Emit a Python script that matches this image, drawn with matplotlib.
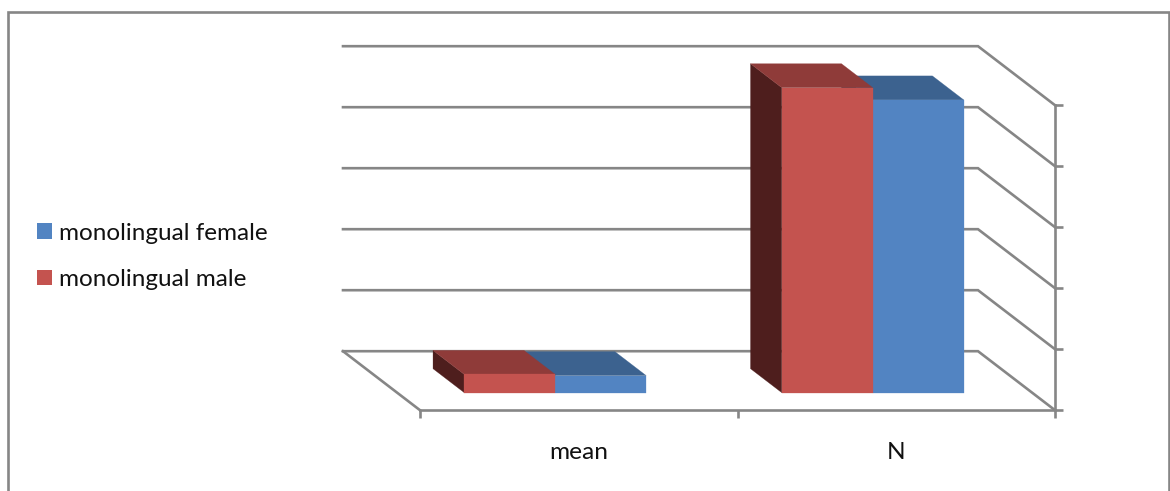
import matplotlib
matplotlib.use("Agg")
import matplotlib.pyplot as plt
from matplotlib.lines import Line2D
from matplotlib.patches import Patch, Polygon

categories = ["mean", "N"]
female_values = [14, 240]
male_values = [15, 250]
gridline_values = [0, 50, 100, 150, 200, 250]

W, H = 1170, 491
GREY = "#868686"
LW = 1.9

# Bar faces: front, top, side
FEMALE = ("#5284C2", "#3C628F", "#2B4668")
MALE = ("#C4534F", "#8F3B39", "#4E1E1D")

plt.rcParams["font.family"] = ["Lato", "DejaVu Sans"]

fig = plt.figure(figsize=(W / 100, H / 100), dpi=100, facecolor="white")

# Front plane of the box: categories along x, values along y
left, right = 420, 1055
floor, top = 410.2, 105.2
ax = fig.add_axes([left / W, 1 - floor / H, (right - left) / W, (floor - top) / H])
ax.set_xlim(0, 2)
ax.set_ylim(0, 250)
ax.patch.set_visible(False)

# Oblique depth: one full unit of depth shifts a point this far in data units
DEPTH_X = 77 / 317.5
DEPTH_Y = 59 / 1.22


def project(c, v, d):
    return (c - d * DEPTH_X, v + d * DEPTH_Y)


# Back wall and right wall gridlines, plus the left floor edge
for v in gridline_values:
    xs, ys = zip(project(0, v, 1), project(2, v, 1), project(2, v, 0))
    ax.plot(xs, ys, color=GREY, lw=LW, clip_on=False, solid_joinstyle="miter", zorder=1)
xs, ys = zip(project(0, 0, 1), project(0, 0, 0))
ax.plot(xs, ys, color=GREY, lw=LW, clip_on=False, zorder=1)

# Bars sit in the middle of the floor depth
D0, D1 = 0.297, 0.703
BAR_W = 0.2865
GAP = 0.2115


def draw_bar(c0, value, colours):
    c1 = c0 + BAR_W
    front = [project(c0, 0, D0), project(c1, 0, D0), project(c1, value, D0), project(c0, value, D0)]
    roof = [project(c0, value, D0), project(c1, value, D0), project(c1, value, D1), project(c0, value, D1)]
    side = [project(c0, 0, D0), project(c0, value, D0), project(c0, value, D1), project(c0, 0, D1)]
    for pts, col in ((side, colours[2]), (roof, colours[1]), (front, colours[0])):
        ax.add_patch(Polygon(pts, closed=True, facecolor=col, edgecolor=col, lw=0.2,
                             clip_on=False, zorder=3))


for i in range(len(categories)):
    draw_bar(i + GAP + BAR_W, female_values[i], FEMALE)
    draw_bar(i + GAP, male_values[i], MALE)

# Axes: bottom edge, right edge and their ticks
for name, spine in ax.spines.items():
    spine.set_visible(name in ("bottom", "right"))
    spine.set_color(GREY)
    spine.set_linewidth(LW)
    spine.set_zorder(2)

ax.yaxis.tick_right()
ax.set_yticks(gridline_values)
ax.set_yticklabels([])
ax.tick_params(axis="y", which="major", length=5.8, width=LW, color=GREY)
ax.set_xticks([0, 1, 2])
ax.set_xticklabels([])
ax.tick_params(axis="x", which="major", length=5.8, width=LW, color=GREY)
ax.set_xticks([i + 0.5 for i in range(len(categories))], minor=True)
ax.set_xticklabels(categories, minor=True, fontsize=17.6, color="#111111")
ax.tick_params(axis="x", which="minor", length=0, pad=23)

# Chart area outline, open at the lower edge
bx0, bx1, by0 = 7.8 / W, 1168.7 / W, 1 - 12 / H
fig.add_artist(Line2D([bx0, bx0, bx1, bx1], [0, by0, by0, 0], transform=fig.transFigure,
                      color=GREY, lw=LW, solid_joinstyle="miter"))

handles = [Patch(facecolor=FEMALE[0], edgecolor="none"), Patch(facecolor=MALE[0], edgecolor="none")]
fig.legend(handles, ["monolingual female", "monolingual male"], frameon=False,
           loc="center left", bbox_to_anchor=(37 / W, 1 - 256.3 / H), borderaxespad=0, borderpad=0,
           fontsize=17.5, labelcolor="#111111", handlelength=0.62, handleheight=0.62,
           handletextpad=0.29, labelspacing=1.05)

fig.savefig("out.png", dpi=100, facecolor="white")
